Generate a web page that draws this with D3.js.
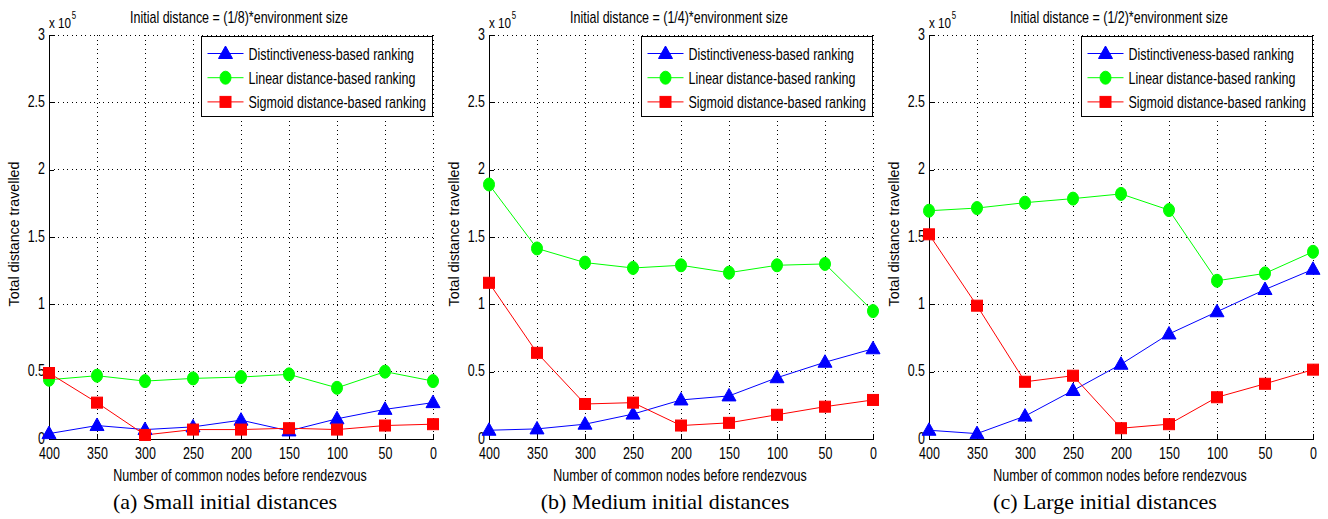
<!DOCTYPE html>
<html lang="en">
<head>
<meta charset="utf-8">
<title>Total distance travelled vs common nodes</title>
<style>
	body { margin: 0; background: #fff; overflow: hidden; }
	svg text { font-family: "Liberation Sans", Arial, sans-serif; fill: #000; }
	.caption { font-family: "Liberation Serif", "Times New Roman", serif !important; }
	.grid line { stroke: #000; stroke-width: 1; stroke-dasharray: 1,3.5; shape-rendering: crispEdges; }
	.axis path, .axis line { stroke: #000; shape-rendering: crispEdges; }
</style>
</head>
<body>
<svg id="chart" width="1328" height="519"></svg>
<script src="https://cdn.jsdelivr.net/npm/d3@7/dist/d3.min.js"></script>
<script>
// x ticks: number of common nodes before rendezvous
var nodeTicks = [400, 350, 300, 250, 200, 150, 100, 50, 0];
var yTicks = [0, 0.5, 1, 1.5, 2, 2.5, 3];
var seriesNames = ["Distinctiveness-based ranking", "Linear distance-based ranking", "Sigmoid distance-based ranking"];
var titles = ["Initial distance = (1/8)*environment size", "Initial distance = (1/4)*environment size", "Initial distance = (1/2)*environment size"];
var captions = ["(a)  Small initial distances", "(b)  Medium initial distances", "(c)  Large initial distances"];

// values in units of 10^5
var distinctSmall = [0.04, 0.10, 0.07, 0.09, 0.14, 0.06, 0.15, 0.22, 0.27];
var linearSmall   = [0.44, 0.47, 0.43, 0.45, 0.46, 0.48, 0.38, 0.50, 0.43];
var sigmoidSmall  = [0.49, 0.27, 0.03, 0.07, 0.07, 0.08, 0.07, 0.10, 0.11];

var distinctMedium = [0.065, 0.075, 0.11, 0.185, 0.29, 0.32, 0.455, 0.57, 0.67];
var linearMedium   = [1.89, 1.415, 1.31, 1.27, 1.29, 1.235, 1.29, 1.30, 0.95];
var sigmoidMedium  = [1.16, 0.64, 0.26, 0.27, 0.10, 0.12, 0.18, 0.24, 0.29];

var distinctLarge = [0.065, 0.04, 0.17, 0.36, 0.555, 0.78, 0.945, 1.11, 1.26];
var linearLarge   = [1.695, 1.715, 1.755, 1.785, 1.82, 1.70, 1.175, 1.23, 1.39];
var sigmoidLarge  = [1.52, 0.99, 0.425, 0.47, 0.08, 0.11, 0.31, 0.41, 0.515];

var panels = [
	[distinctSmall, linearSmall, sigmoidSmall],
	[distinctMedium, linearMedium, sigmoidMedium],
	[distinctLarge, linearLarge, sigmoidLarge]
];

var colors = ["#0000ff", "#00ff00", "#ff0000"];
var markers = ["triangle", "circle", "square"];

var svg = d3.select("#chart");
var W = 384, H = 404, top0 = 35;
var lefts = [49, 489, 929];
var SX = 0.78; // narrow look of the matlab font

var x = d3.scaleLinear().domain([400, 0]).range([0, W]);
var y = d3.scaleLinear().domain([0, 3]).range([H, 0]);

// condensed text helper
function label(parent, px, py, str, size, anchor) {
	return parent.append("text")
		.attr("transform", "translate(" + px + "," + py + ") scale(" + SX + ",1)")
		.attr("text-anchor", anchor || "start")
		.attr("font-size", size)
		.text(str);
}

function drawMarker(sel, type, color) {
	if (type == "triangle") {
		sel.append("path").attr("d", "M0,-7.5L7,5L-7,5Z").attr("fill", color).attr("stroke", color);
	} else if (type == "circle") {
		sel.append("ellipse").attr("rx", 5.5).attr("ry", 6.5).attr("fill", color).attr("stroke", color);
	} else {
		sel.append("rect").attr("x", -5.5).attr("y", -5.5).attr("width", 11).attr("height", 11).attr("fill", color).attr("stroke", color);
	}
}

panels.forEach(function(data, p) {
	var g = svg.append("g").attr("transform", "translate(" + lefts[p] + "," + top0 + ")");

	// grid
	var grid = g.append("g").attr("class", "grid");
	grid.selectAll(".vx").data(nodeTicks.slice(1)).enter().append("line")
		.attr("x1", function(d) { return x(d); }).attr("x2", function(d) { return x(d); })
		.attr("y1", 0).attr("y2", H);
	grid.selectAll(".hy").data(yTicks.slice(1)).enter().append("line")
		.attr("x1", 0).attr("x2", W)
		.attr("y1", function(d) { return y(d); }).attr("y2", function(d) { return y(d); });

	// axes
	var xa = g.append("g").attr("class", "axis").attr("transform", "translate(0," + H + ")")
		.call(d3.axisBottom(x).tickValues(nodeTicks).tickSizeInner(-5).tickSizeOuter(0).tickPadding(9).tickFormat(d3.format("d")));
	xa.selectAll("text").attr("font-size", 16).attr("transform", "scale(" + SX + ",1)");
	var ya = g.append("g").attr("class", "axis")
		.call(d3.axisLeft(y).tickValues(yTicks).tickSizeInner(-5).tickSizeOuter(0).tickFormat(function(d) { return d; }));
	ya.selectAll("text").attr("font-size", 16).attr("x", 0).attr("dy", "0.26em")
		.attr("transform", "translate(-4,0) scale(" + SX + ",1)");
	g.selectAll(".axis text").attr("fill", "#000").style("font-family", null);

	// exponent
	var ex = label(g, 0, -7, "x 10", 15);
	ex.append("tspan").attr("dy", -9).attr("dx", 1).attr("font-size", 10).text("5");

	// title
	label(g, W / 2 - 2, -12, titles[p], 16, "middle");

	// axis labels
	label(g, W / 2 - 1, H + 42, "Number of common nodes before rendezvous", 16, "middle");
	g.append("text").attr("transform", "translate(-30," + (H / 2 - 3) + ") rotate(-90) scale(0.95,1)")
		.attr("text-anchor", "middle").attr("font-size", 15).text("Total distance travelled");

	// caption
	g.append("text").attr("class", "caption").attr("x", W / 2 - 16).attr("y", H + 70)
		.attr("text-anchor", "middle").attr("font-size", 22).text(captions[p]);

	// series
	var line = d3.line().x(function(d, i) { return x(nodeTicks[i]); }).y(function(d) { return y(d); });
	data.forEach(function(vals, s) {
		g.append("path").datum(vals).attr("d", line).attr("fill", "none").attr("stroke", colors[s]).attr("stroke-width", 1);
	});
	data.forEach(function(vals, s) {
		g.selectAll(".m" + s).data(vals).enter().append("g")
			.attr("transform", function(d, i) { return "translate(" + x(nodeTicks[i]) + "," + y(d) + ")"; })
			.each(function() { drawMarker(d3.select(this), markers[s], colors[s]); });
	});

	// legend
	var lg = g.append("g").attr("transform", "translate(152.5,1.5)");
	lg.append("rect").attr("width", 231).attr("height", 80).attr("fill", "#fff").attr("stroke", "#000");
	seriesNames.forEach(function(name, s) {
		var row = lg.append("g").attr("transform", "translate(0," + (17 + s * 24.2) + ")");
		row.append("line").attr("x1", 6).attr("x2", 42).attr("stroke", colors[s]).attr("stroke-width", 1);
		var m = row.append("g").attr("transform", "translate(24,0)");
		drawMarker(m, markers[s], colors[s]);
		label(row, 47, 6, name, 16);
	});
});
</script>
</body>
</html>
